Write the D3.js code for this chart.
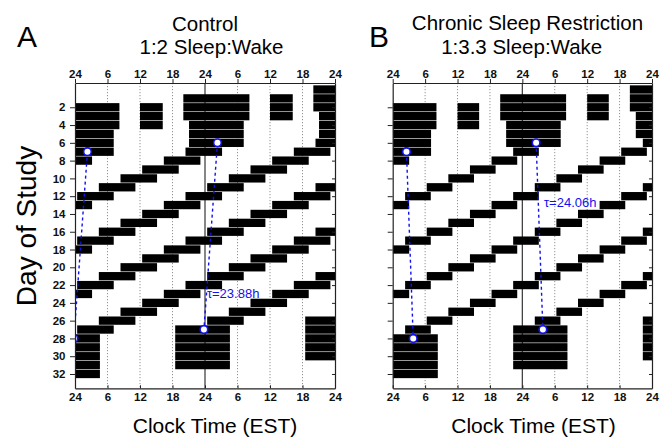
<!DOCTYPE html>
<html>
<head>
<meta charset="utf-8">
<script src="https://cdn.jsdelivr.net/npm/d3@7/dist/d3.min.js"></script>
<style>
  body { margin: 0; background: #fff; }
  svg { font-family: "Liberation Sans", Arial, sans-serif; }
</style>
</head>
<body>
<svg id="chart" width="660" height="437"></svg>
<script>
const width = 660, height = 437;

// clock hours across the double plot (0..48) and how they are labelled
const hourTicks = [0, 6, 12, 18, 24, 30, 36, 42, 48];
const hourTickLabels = ["24", "6", "12", "18", "24", "6", "12", "18", "24"];
const dayTicks = [2, 4, 6, 8, 10, 12, 14, 16, 18, 20, 22, 24, 26, 28, 30, 32];

// sleep episodes, [start, end] in hours from midnight of day 0
const sleepControl = [
  [44, 56.2], [60, 64.2], [68, 80.2], [84, 88.2], [92, 104.2], [108, 112.2],
  [117.05, 127.15], [141.05, 151.15], [165.05, 175.15],
  [188.4, 195.15], [208.4, 215.15], [228.4, 235.15], [248.4, 255.15], [268.4, 275.15],
  [288.4, 295.15], [308.4, 315.15], [328.4, 335.15], [348.4, 355.15], [368.4, 375.15],
  [388.4, 395.15], [408.4, 415.15], [428.4, 435.15], [448.4, 455.15], [468.4, 475.15],
  [488.4, 495.15], [508.4, 515.15], [528.4, 535.15], [548.4, 555.15], [568.4, 575.15],
  [588.4, 595.15], [608.4, 615.15], [628.4, 635.15], [648.4, 655.15],
  [666.5, 676.6], [690.5, 700.6], [714.5, 724.6], [738.5, 748.6], [762.5, 772.6]
];
const sleepCSR = [
  [43.9, 56.1], [60, 64], [67.9, 80.1], [84, 88], [91.9, 104.1], [108, 112],
  [117, 127.1], [141, 151.1], [165, 175.1],
  [190.3, 195.05], [210.3, 215.05], [230.3, 235.05], [250.3, 255.05], [270.3, 275.05],
  [290.3, 295.05], [310.3, 315.05], [330.3, 335.05], [350.3, 355.05], [370.3, 375.05],
  [390.3, 395.05], [410.3, 415.05], [430.3, 435.05], [450.3, 455.05], [470.3, 475.05],
  [490.3, 495.05], [510.3, 515.05], [530.3, 535.05], [550.3, 555.05], [570.3, 575.05],
  [590.3, 595.05], [610.3, 615.05], [630.3, 635.05], [650.3, 655.05],
  [670.3, 680.35], [694.3, 704.35], [718.3, 728.35], [742.3, 752.35], [766.3, 776.35]
];

// circadian phase markers (clock hour on study day) and fitted period
const phaseDays = [7, 28];
const phaseControl = [2.3, -0.2];
const phaseCSR = [2.55, 3.8];
const tauLabels = ["\u03c4=23.88h", "\u03c4=24.06h"];
const tauLabelAt = [[24.35, 23.4], [28.0, 13.2]]; // [hour, day]

const panels = [
  { key: "A", sleep: sleepControl, phase: phaseControl, tau: tauLabels[0], tauAt: tauLabelAt[0],
    x0: 75, x1: 335, dayLabels: true,
    letterX: 17, titles: [["Control", 205, 30.5], ["1:2 Sleep:Wake", 211.5, 54]], xTitleX: 215 },
  { key: "B", sleep: sleepCSR, phase: phaseCSR, tau: tauLabels[1], tauAt: tauLabelAt[1],
    x0: 392.7, x1: 652, dayLabels: false,
    letterX: 369, titles: [["Chronic Sleep Restriction", 527.5, 30], ["1:3.3 Sleep:Wake", 521.7, 54]], xTitleX: 533.5 }
];

const plotTop = 83, plotBottom = 388.3;
const rows = d3.range(0, 34);
const barH = 8.3;
const blue = "#1010f0";

const svg = d3.select("#chart");

const y = d3.scaleLinear().domain([-0.73, 33.61]).range([plotTop, plotBottom]);

panels.forEach((p, pi) => {
  const x = d3.scaleLinear().domain([0, 48]).range([p.x0, p.x1]);
  const g = svg.append("g");

  svg.append("clipPath").attr("id", "clip" + pi)
    .append("rect").attr("x", p.x0).attr("y", plotTop).attr("width", p.x1 - p.x0).attr("height", plotBottom - plotTop);

  //dotted grid at 6h steps, solid line at midnight in the middle
  g.selectAll(".grid").data(hourTicks.filter(h => h % 24 !== 0)).enter().append("line")
    .attr("x1", d => x(d)).attr("x2", d => x(d)).attr("y1", plotTop).attr("y2", plotBottom)
    .attr("stroke", "#777").attr("stroke-width", 0.8).attr("stroke-dasharray", "1.2,1.8");
  g.append("line").attr("x1", x(24)).attr("x2", x(24)).attr("y1", plotTop).attr("y2", plotBottom)
    .attr("stroke", "#444").attr("stroke-width", 1.3);

  //double plotted bars: row r shows day r on the left and day r+1 on the right
  const bars = [];
  rows.forEach(r => {
    p.sleep.forEach(([s, e]) => {
      const a = Math.max(0, s - 24 * r), b = Math.min(48, e - 24 * r);
      if (b > a) bars.push({ r: r, a: a, b: b });
    });
  });
  g.append("g").attr("clip-path", `url(#clip${pi})`)
    .selectAll("rect").data(bars).enter().append("rect")
    .attr("x", d => x(d.a)).attr("width", d => x(d.b) - x(d.a))
    .attr("y", d => y(d.r) - barH / 2).attr("height", barH)
    .attr("fill", "#000");

  //phase markers, once per half
  const marks = g.append("g").attr("clip-path", `url(#clip${pi})`);
  const halves = [
    [[p.phase[0], phaseDays[0]], [p.phase[1], phaseDays[1]]],
    [[24 + p.phase[0], phaseDays[0] - 1], [24 + p.phase[1], phaseDays[1] - 1]]
  ];
  halves.forEach(pts => {
    marks.append("line")
      .attr("x1", x(pts[0][0])).attr("y1", y(pts[0][1]))
      .attr("x2", x(pts[1][0])).attr("y2", y(pts[1][1]))
      .attr("stroke", blue).attr("stroke-width", 1.4).attr("stroke-dasharray", "3,3");
  });
  halves.forEach(pts => {
    marks.selectAll(null).data(pts).enter().append("circle")
      .attr("cx", d => x(d[0])).attr("cy", d => y(d[1])).attr("r", 3.8)
      .attr("fill", "#fff").attr("stroke", blue).attr("stroke-width", 1.6);
  });

  g.append("text").attr("x", x(p.tauAt[0])).attr("y", y(p.tauAt[1]))
    .attr("fill", blue).attr("font-size", 13).text(p.tau);

  //axes
  const axTop = g.append("g").attr("transform", `translate(0,${plotTop})`)
    .call(d3.axisTop(x).tickValues(hourTicks).tickFormat((d, i) => hourTickLabels[i])
      .tickSize(4).tickSizeOuter(0).tickPadding(1.5));
  const axBottom = g.append("g").attr("transform", `translate(0,${plotBottom})`)
    .call(d3.axisBottom(x).tickValues(hourTicks).tickFormat((d, i) => hourTickLabels[i])
      .tickSize(-3).tickSizeOuter(0).tickPadding(5));
  const axLeft = g.append("g").attr("transform", `translate(${p.x0},0)`)
    .call(d3.axisLeft(y).tickValues(dayTicks).tickFormat(d => p.dayLabels ? d : "")
      .tickSize(5).tickSizeOuter(0).tickPadding(4.5));
  const axRight = g.append("g").attr("transform", `translate(${p.x1},0)`)
    .call(d3.axisRight(y).tickValues(dayTicks).tickFormat("").tickSize(-3).tickSizeOuter(0));

  [axTop, axBottom, axLeft, axRight].forEach(a => {
    a.attr("font-family", null).attr("font-size", null);
    a.selectAll("path").attr("stroke", "#222").attr("stroke-width", 1.2);
    a.selectAll("line").attr("stroke", "#222").attr("stroke-width", 1);
    a.selectAll("text").attr("font-size", 11.5).attr("font-weight", "bold").attr("fill", "#111");
  });

  //titles
  svg.append("text").attr("x", p.letterX).attr("y", 47).attr("font-size", 30).text(p.key);
  p.titles.forEach(t => {
    svg.append("text").attr("x", t[1]).attr("y", t[2]).attr("text-anchor", "middle")
      .attr("font-size", 20.5).text(t[0]);
  });
  svg.append("text").attr("x", p.xTitleX).attr("y", 432.5).attr("text-anchor", "middle")
    .attr("font-size", 21).text("Clock Time (EST)");
});

svg.append("text").attr("transform", "translate(35.5,226) rotate(-90)")
  .attr("text-anchor", "middle").attr("font-size", 28).text("Day of Study");
</script>
</body>
</html>
